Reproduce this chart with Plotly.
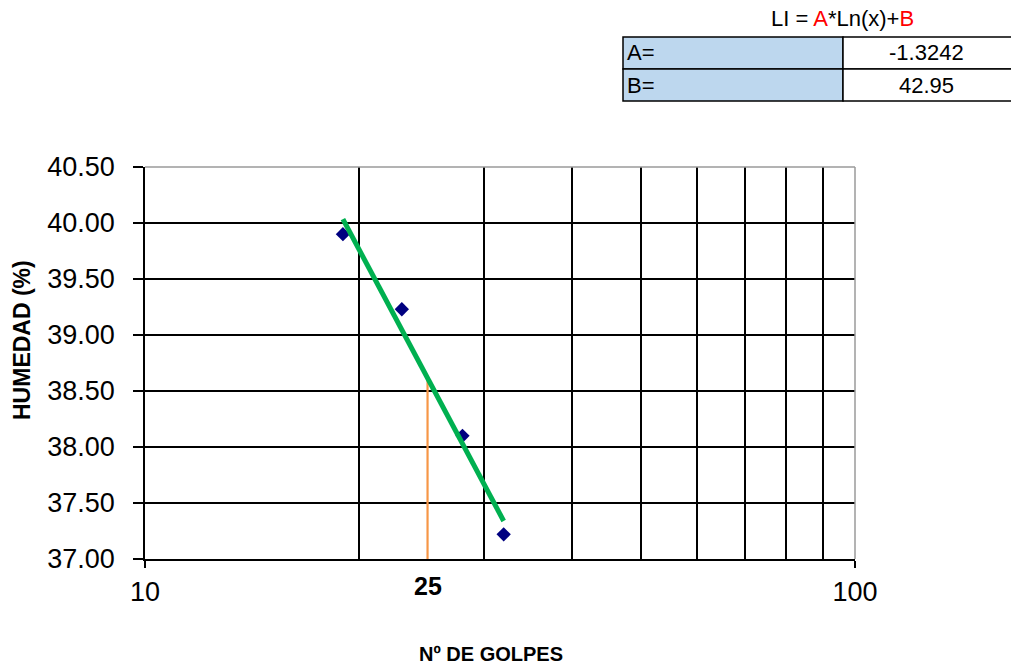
import numpy as np
import plotly.graph_objects as go

# Limit test data: number of blows vs moisture content
golpes = [19, 23, 28, 32]
humedad = [39.90, 39.23, 38.10, 37.22]
golpes_ref = 25

# Coefficients shown in the table (LI = A*Ln(x)+B)
coef_labels = ["A=", "B="]
coef_values = ["-1.3242", "42.95"]

y_ticks = [37.0, 37.5, 38.0, 38.5, 39.0, 39.5, 40.0, 40.5]
x_ticks = [10, 100]
x_minor = [20, 30, 40, 50, 60, 70, 80, 90]

# Logarithmic trend line through the data
fit = np.polyfit(np.log(golpes), humedad, 1)
x_fit = [min(golpes), max(golpes)]
y_fit = np.polyval(fit, np.log(x_fit))
y_ref = float(np.polyval(fit, np.log(golpes_ref)))

W, H = 1011, 666
ML, MR, MT, MB = 145, 156, 167, 107
PW, PH = W - ML - MR, H - MT - MB


def px(x):
    return (x - ML) / PW


def py(y):
    return (H - MB - y) / PH


FONT = "Liberation Sans, Arial, sans-serif"

fig = go.Figure()

# Vertical reference line at 25 blows
fig.add_trace(go.Scatter(
    x=[golpes_ref, golpes_ref], y=[y_ticks[0], y_ref],
    mode="lines", line=dict(color="#F79646", width=2.2),
    hoverinfo="skip", showlegend=False,
))

fig.add_trace(go.Scatter(
    x=golpes, y=humedad, mode="markers",
    marker=dict(symbol="diamond", color="#000080", size=11),
    showlegend=False,
))

fig.add_trace(go.Scatter(
    x=x_fit, y=y_fit, mode="lines",
    line=dict(color="#00B050", width=5),
    showlegend=False,
))

fig.update_layout(
    width=W, height=H,
    margin=dict(l=ML, r=MR, t=MT, b=MB),
    paper_bgcolor="white", plot_bgcolor="white",
    font=dict(family=FONT, color="black"),
    xaxis=dict(
        type="log", range=[1, 2],
        tickvals=x_ticks, ticktext=[str(v) for v in x_ticks],
        ticks="outside", ticklen=7, tickcolor="black", tickwidth=1.5,
        ticklabelstandoff=1,
        showline=True, linecolor="black", linewidth=1.5,
        showgrid=False, zeroline=False,
        tickfont=dict(size=27, family=FONT, color="black"),
        minor=dict(tickvals=x_minor, showgrid=True, gridcolor="black",
                   gridwidth=1.5, ticks=""),
    ),
    yaxis=dict(
        range=[y_ticks[0], y_ticks[-1]],
        tickvals=y_ticks, tickformat=".2f",
        ticks="outside", ticklen=10, tickcolor="black", tickwidth=1.5,
        ticklabelstandoff=13,
        showline=True, linecolor="black", linewidth=1.5,
        showgrid=True, gridcolor="black", gridwidth=1.5, zeroline=False,
        tickfont=dict(size=27, family=FONT, color="black"),
    ),
)

shapes = [
    # grey plot-area border on the top and right
    dict(type="line", xref="paper", yref="paper", x0=0, x1=1, y0=1, y1=1,
         line=dict(color="#9A9A9A", width=1.5), layer="above"),
    dict(type="line", xref="paper", yref="paper", x0=1, x1=1, y0=0, y1=1,
         line=dict(color="#9A9A9A", width=1.5), layer="above"),
]

# Coefficient table
row_top = [37, 69]
row_h = 32
for i, top in enumerate(row_top):
    shapes.append(dict(type="rect", xref="paper", yref="paper",
                       x0=px(623), x1=px(843), y0=py(top + row_h), y1=py(top),
                       fillcolor="#BDD7EE", line=dict(color="black", width=1.5)))
    shapes.append(dict(type="rect", xref="paper", yref="paper",
                       x0=px(843), x1=px(1020), y0=py(top + row_h), y1=py(top),
                       fillcolor="white", line=dict(color="black", width=1.5)))


def note(text, x, y, size, xanchor="center", xref="paper", angle=0):
    return dict(text=text, xref=xref, yref="paper", x=x, y=y,
                xanchor=xanchor, yanchor="middle", textangle=angle,
                showarrow=False, font=dict(size=size, family=FONT, color="black"))


annotations = [
    note("LI = <span style='color:#FF0000'>A</span>*Ln(x)+<span style='color:#FF0000'>B</span>",
         px(842), py(18), 22),
    note("<b>HUMEDAD (%)</b>", px(22), py(340), 23, angle=-90),
    note("<b>Nº DE GOLPES</b>", px(491), py(654), 20),
    note("<b>%d</b>" % golpes_ref, np.log10(golpes_ref), py(586), 25, xref="x"),
]
for top, lab, val in zip(row_top, coef_labels, coef_values):
    annotations.append(note(lab, px(625), py(top + row_h / 2), 22, xanchor="left"))
    annotations.append(note(val, px(926), py(top + row_h / 2), 22))

fig.update_layout(shapes=shapes, annotations=annotations)

fig.write_html("out.html")
